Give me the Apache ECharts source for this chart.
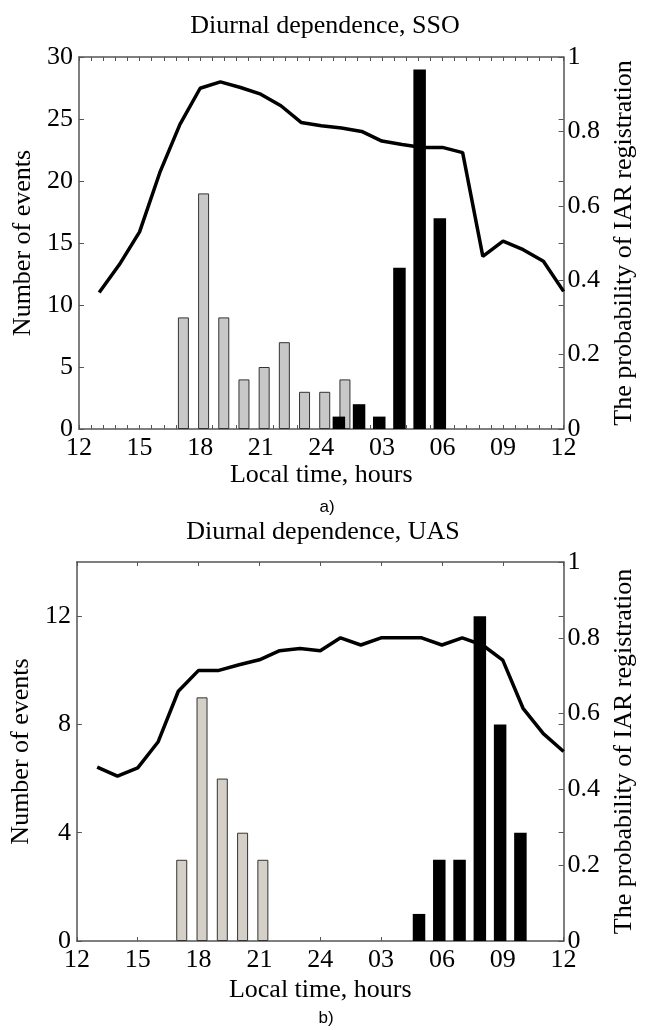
<!DOCTYPE html>
<html>
<head>
<meta charset="utf-8">
<script src="https://cdn.jsdelivr.net/npm/echarts@6/dist/echarts.min.js"></script>
<style>
  html, body { margin: 0; padding: 0; background: #fff; }
  #chart { width: 645px; height: 1030px; }
</style>
</head>
<body>
<div id="chart"></div>
<script>
// ---------- DATA ----------
// Hours on an unwrapped local-time axis (12 .. 36, i.e. 12:00 to next day 12:00)
const lineHours = [13,14,15,16,17,18,19,20,21,22,23,24,25,26,27,28,29,30,31,32,33,34,35,36];

// Panel a) SSO
const ssoGrayHours = [17,18,19,20,21,22,23,24,25];
const ssoGrayCounts = [9,19,9,4,5,7,3,3,4];
const ssoBlackHours = [25,26,27,28,29,30];
const ssoBlackCounts = [1,2,1,13,29,17];
const ssoProb = [0.367,0.442,0.530,0.689,0.819,0.916,0.933,0.918,0.900,0.869,0.824,0.815,
                 0.809,0.800,0.774,0.765,0.757,0.757,0.743,0.464,0.505,0.482,0.451,0.370];

// Panel b) UAS
const uasGrayHours = [17,18,19,20,21];
const uasGrayCounts = [3,9,6,4,3];
const uasBlackHours = [29,30,31,32,33,34];
const uasBlackCounts = [1,3,3,12,8,4];
const uasProb = [0.459,0.435,0.457,0.525,0.659,0.714,0.714,0.729,0.742,0.766,0.772,0.766,
                 0.800,0.781,0.800,0.800,0.800,0.781,0.800,0.781,0.741,0.614,0.547,0.500];

const xTicks = [12,15,18,21,24,27,30,33,36];
const xTickText = ['12','15','18','21','24','03','06','09','12'];

// ---------- STYLE ----------
const SERIF = 'Liberation Serif, Times New Roman, serif';
const FS = 26;
const AXC = '#555';
const GRAY_SHIFT = 0.17;
const BLACK_SHIFT = -0.13;

function xLabel(v) {
  const i = xTicks.indexOf(v);
  return i >= 0 ? xTickText[i] : '';
}
const pairs = (xs, ys, shift) => xs.map((h, i) => [h + shift, ys[i]]);

const grids = [
  { left: 79, right: 74, top: 57, height: 372 },
  { left: 72, right: 70, top: 562, height: 379 }
];

function xAxes(gi, minor) {
  const base = {
    gridIndex: gi, type: 'value', min: 12, max: 36, interval: 3,
    splitLine: { show: false },
    axisLine: { show: true, onZero: false, lineStyle: { color: AXC, width: 1.5 } },
    axisTick: { show: true, inside: true, length: 4, lineStyle: { color: AXC, width: 1 } },
    minorTick: { show: minor, splitNumber: 5, length: 4, lineStyle: { color: AXC, width: 1 } },
  };
  return [
    Object.assign({}, base, {
      position: 'bottom',
      axisLabel: { show: true, margin: 6, color: '#000', fontFamily: SERIF, fontSize: FS, formatter: xLabel },
      name: 'Local time, hours', nameLocation: 'middle', nameGap: gi === 0 ? 32 : 36,
      nameTextStyle: { color: '#000', fontFamily: SERIF, fontSize: FS }
    }),
    Object.assign({}, base, { position: 'top', axisLabel: { show: false } })
  ];
}

function yAxes(gi, leftMax, leftInt, nameGapL, nameGapR) {
  const line = { show: true, lineStyle: { color: AXC, width: 1.5 } };
  const tick = { show: true, inside: true, length: 5, lineStyle: { color: AXC, width: 1 } };
  return [
    { gridIndex: gi, type: 'value', position: 'left', min: 0, max: leftMax, interval: leftInt,
      splitLine: { show: false }, axisLine: line, axisTick: tick,
      axisLabel: { margin: 6, color: '#000', fontFamily: SERIF, fontSize: FS, showMaxLabel: leftMax % leftInt === 0 },
      name: 'Number of events', nameLocation: 'middle', nameRotate: 90, nameGap: nameGapL,
      nameTextStyle: { color: '#000', fontFamily: SERIF, fontSize: FS } },
    { gridIndex: gi, type: 'value', position: 'right', min: 0, max: 1, interval: 0.2,
      splitLine: { show: false }, axisLine: line, axisTick: tick,
      axisLabel: { margin: 4, color: '#000', fontFamily: SERIF, fontSize: FS },
      name: 'The probability of IAR registration', nameLocation: 'middle', nameRotate: 90, nameGap: nameGapR,
      nameTextStyle: { color: '#000', fontFamily: SERIF, fontSize: FS } },
    // mirrored left-scale ticks on the right spine (box style)
    { gridIndex: gi, type: 'value', position: 'right', min: 0, max: leftMax, interval: leftInt,
      splitLine: { show: false }, axisLine: { show: false }, axisTick: tick, axisLabel: { show: false } }
  ];
}

const xA = xAxes(0, true).concat(xAxes(1, false));
const yA = yAxes(0, 30, 5, 37, 47).concat(yAxes(1, 14, 4, 37, 47));

function panelSeries(xi, yi, grayHours, grayCounts, grayColor, blackHours, blackCounts, prob) {
  return [
    { type: 'bar', xAxisIndex: xi, yAxisIndex: yi, barWidth: 11,
      data: pairs(grayHours, grayCounts, GRAY_SHIFT),
      itemStyle: { color: grayColor, borderColor: '#333', borderWidth: 1 }, z: 2, silent: true },
    { type: 'bar', xAxisIndex: xi + 1, yAxisIndex: yi, barWidth: 12.5,
      data: pairs(blackHours, blackCounts, BLACK_SHIFT),
      itemStyle: { color: '#000' }, z: 3, silent: true },
    { type: 'line', xAxisIndex: xi, yAxisIndex: yi + 1,
      data: lineHours.map((h, i) => [h, prob[i]]),
      showSymbol: false, lineStyle: { color: '#000', width: 3.5 }, z: 4, silent: true }
  ];
}

const series = panelSeries(0, 0, ssoGrayHours, ssoGrayCounts, '#c8c8c8', ssoBlackHours, ssoBlackCounts, ssoProb)
  .concat(panelSeries(2, 3, uasGrayHours, uasGrayCounts, '#d4d0c8', uasBlackHours, uasBlackCounts, uasProb));

const txt = (x, y, t, font) => ({
  type: 'text', x: x, y: y,
  style: { text: t, font: font, fill: '#000', textAlign: 'center', textVerticalAlign: 'middle' }
});

const chart = echarts.init(document.getElementById('chart'), null, { renderer: 'canvas' });
chart.setOption({
  animation: false,
  backgroundColor: '#fff',
  grid: grids,
  xAxis: xA,
  yAxis: yA,
  series: series,
  graphic: [
    txt(325, 26, 'Diurnal dependence, SSO', FS + 'px ' + SERIF),
    txt(327, 507, 'a)', '17px Liberation Sans, Arial, sans-serif'),
    txt(323, 532, 'Diurnal dependence, UAS', FS + 'px ' + SERIF),
    txt(326, 1018, 'b)', '17px Liberation Sans, Arial, sans-serif')
  ]
});
</script>
</body>
</html>
